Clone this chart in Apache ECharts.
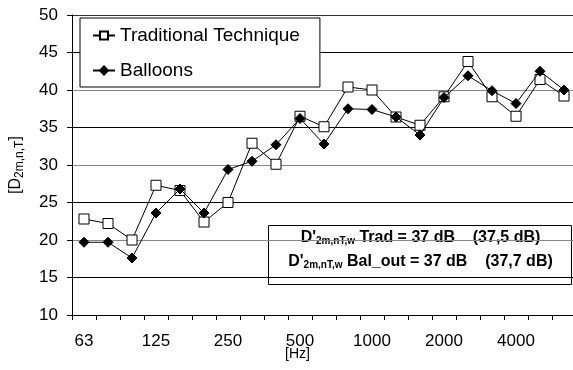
<!DOCTYPE html>
<html>
<head>
<meta charset="utf-8">
<script src="https://cdn.jsdelivr.net/npm/echarts@6/dist/echarts.min.js"></script>
<style>
  html, body { margin: 0; padding: 0; background: #fff; }
  #chart { width: 573px; height: 370px; }
</style>
</head>
<body>
<div id="chart"></div>
<script>
const freqs = ["63", "80", "100", "125", "160", "200", "250", "315", "400", "500", "630",
  "800", "1000", "1250", "1600", "2000", "2500", "3150", "4000", "5000", "6300"];
const traditional = [22.8, 22.2, 20.0, 27.3, 26.6, 22.4, 25.0, 32.9, 30.1, 36.5, 35.1,
  40.4, 40.0, 36.4, 35.3, 39.1, 43.8, 39.1, 36.5, 41.4, 39.2];
const balloons = [19.7, 19.7, 17.6, 23.6, 26.8, 23.6, 29.4, 30.5, 32.7, 36.2, 32.8,
  37.5, 37.4, 36.4, 34.0, 39.0, 41.9, 39.9, 38.2, 42.5, 40.0];
const yTicks = { min: 10, max: 50, step: 5 };

const font = "Liberation Sans, Arial, sans-serif";
const chart = echarts.init(document.getElementById("chart"));

const option = {
  backgroundColor: "#fff",
  animation: false,
  textStyle: { fontFamily: font, color: "#000" },
  grid: { left: 72, top: 15, width: 504, height: 300, containLabel: false, outerBoundsMode: "none" },
  legend: {
    left: 80, top: 18,
    orient: "vertical",
    backgroundColor: "#fff",
    borderColor: "#000",
    borderWidth: 1,
    padding: [8, 20, 7, 12],
    itemGap: 16,
    itemWidth: 22,
    itemHeight: 10,
    textStyle: { fontSize: 19, color: "#000", fontFamily: font },
    data: ["Traditional Technique", "Balloons"],
  },
  xAxis: {
    type: "category",
    data: freqs,
    boundaryGap: true,
    axisLine: { lineStyle: { color: "#000", width: 1 } },
    axisTick: { show: true, interval: 0, length: 5, lineStyle: { color: "#000" } },
    axisLabel: { interval: 2, fontSize: 17, color: "#000", margin: 18, fontFamily: font },
    splitLine: { show: false },
  },
  yAxis: {
    type: "value",
    min: yTicks.min, max: yTicks.max, interval: yTicks.step,
    name: "[D{s|2m,n,T}]",
    nameLocation: "middle",
    nameGap: 48,
    nameTextStyle: {
      fontSize: 16, color: "#000", fontFamily: font,
      rich: { s: { fontSize: 12, lineHeight: 12, color: "#000", fontFamily: font, verticalAlign: "middle", padding: [7, 0, 0, 0] } },
    },
    axisLine: { show: true, lineStyle: { color: "#000", width: 1 } },
    axisTick: { show: true, length: 5, lineStyle: { color: "#000" } },
    axisLabel: { fontSize: 17, color: "#000", margin: 14, fontFamily: font },
    splitLine: {
      show: true,
      lineStyle: {
        width: 1,
        color: ["#000", "#000", "#888", "#000", "#888", "#000", "#888", "#000", "#333"],
      },
    },
  },
  graphic: [
    {
      type: "group",
      left: 268, top: 225,
      children: [
        {
          type: "rect",
          shape: { x: 0, y: 0, width: 303, height: 59 },
          style: { fill: "#fff", stroke: "#000", lineWidth: 1 },
        },
        {
          type: "text",
          x: 152, y: 0,
          style: {
            text: "D'{s|2m,nT,w} Trad = 37 dB    (37,5 dB)\nD'{s|2m,nT,w} Bal_out = 37 dB    (37,7 dB)",
            font: "bold 16px " + font,
            fill: "#000",
            align: "center",
            lineHeight: 24,
            rich: {
              s: { font: "bold 10px " + font, fill: "#000", lineHeight: 10, verticalAlign: "middle", padding: [7, 0, 0, 0] },
            },
          },
        },
      ],
    },
    {
      type: "text",
      left: 285, top: 347,
      style: { text: "[Hz]", font: "14px " + font, fill: "#000" },
    },
  ],
  series: [
    {
      name: "Traditional Technique",
      type: "line",
      data: traditional,
      symbol: "rect",
      symbolSize: 10,
      lineStyle: { color: "#000", width: 1 },
      itemStyle: { color: "#fff", borderColor: "#000", borderWidth: 1 },
      z: 2,
    },
    {
      name: "Balloons",
      type: "line",
      data: balloons,
      symbol: "diamond",
      symbolSize: 10,
      lineStyle: { color: "#000", width: 1 },
      itemStyle: { color: "#000", borderColor: "#000", borderWidth: 1 },
      z: 3,
    },
  ],
};

chart.setOption(option);
</script>
</body>
</html>
